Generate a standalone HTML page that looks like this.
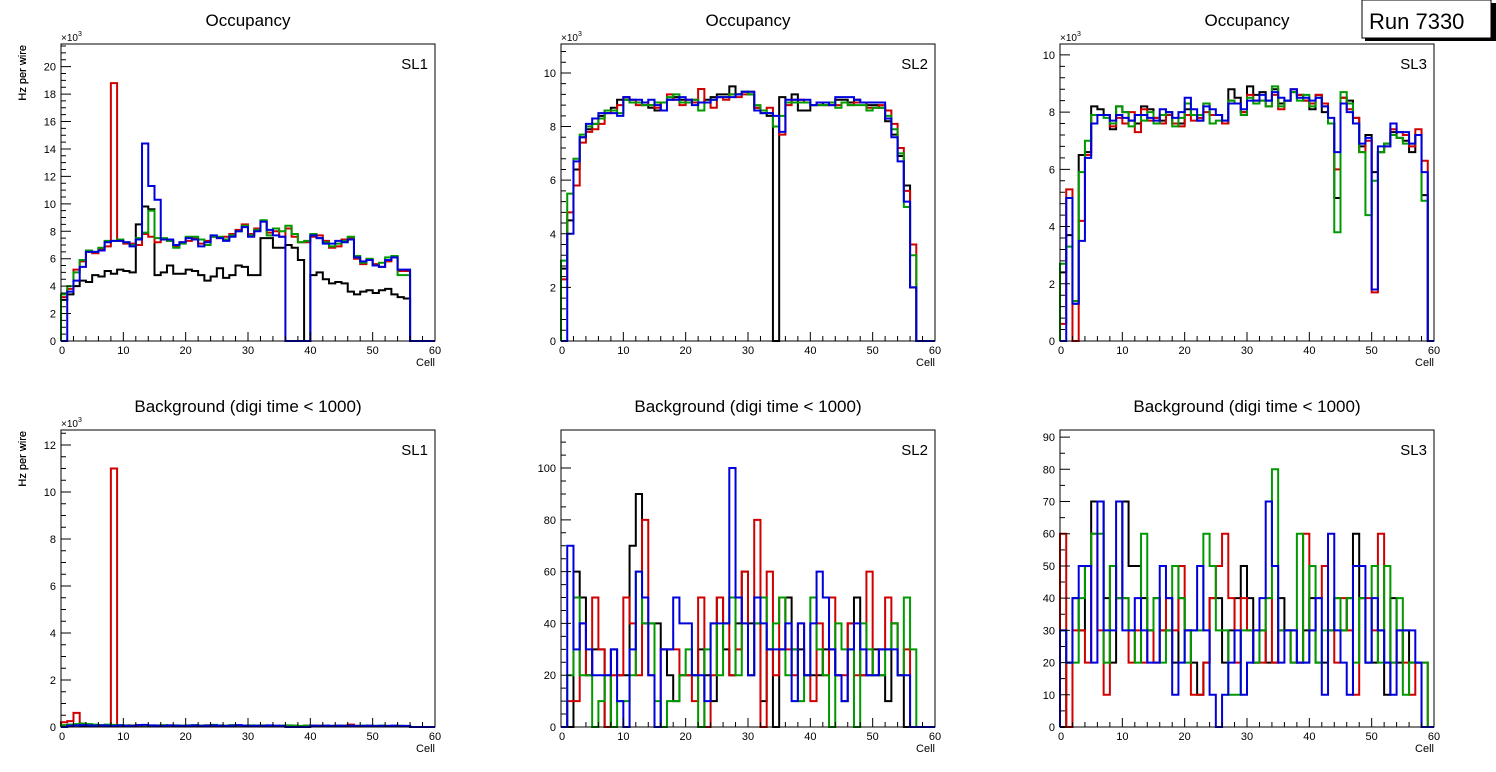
<!DOCTYPE html>
<html><head><meta charset="utf-8">
<style>
html,body{margin:0;padding:0;background:#fff;}
svg{display:block;font-family:"Liberation Sans",sans-serif;}
</style></head>
<body>
<svg id="root" width="1496" height="772" viewBox="0 0 1496 772" xmlns="http://www.w3.org/2000/svg">
<rect x="0" y="0" width="1496" height="772" fill="#fff"/>
<g>
<rect x="1365" y="3" width="131" height="38" fill="#000"/>
<rect x="1362" y="0" width="129" height="38" fill="#fff" stroke="#000" stroke-width="1"/>
<text x="1369" y="29" font-size="22" fill="#000">Run 7330</text>
</g>
</svg>
<script>
// ---- data (cells 0..59) ----
const cells = Array.from({length:60},(_,i)=>i);
const xTicks = [0,10,20,30,40,50,60];
// Panel 1: Occupancy SL1 (x10^3)
const occ1Black = [3.0,3.4,4.0,4.4,4.3,4.8,4.7,5.1,4.9,5.2,5.1,5.0,8.5,9.8,9.6,4.8,5.0,5.5,4.9,4.9,5.2,5.1,4.8,4.4,4.7,5.3,4.6,4.8,5.5,5.4,4.8,4.8,7.5,7.5,6.8,6.8,7.0,6.8,5.9,0,4.8,5.0,4.5,4.2,4.3,4.2,3.6,3.4,3.6,3.7,3.5,3.7,3.8,3.4,3.2,3.1,0,0,0,0];
const occ1Red   = [3.2,3.8,5.2,5.8,6.5,6.4,6.7,6.9,18.8,7.3,7.1,7.1,7.0,7.8,7.6,7.2,7.4,7.3,6.9,7.2,7.3,7.5,7.1,7.3,7.6,7.5,7.6,7.8,8.1,8.5,7.8,8.2,8.7,7.9,8.0,7.6,8.2,7.6,7.2,7.2,7.6,7.7,7.3,6.8,6.9,7.4,7.5,6.0,5.6,5.9,5.6,5.4,5.8,6.1,5.1,5.1,0,0,0,0];
const occ1Green = [3.4,4.0,5.0,5.9,6.6,6.5,6.8,7.3,7.3,7.4,7.2,7.0,7.5,7.9,9.5,7.5,7.5,7.3,6.8,7.1,7.6,7.6,7.4,7.0,7.6,7.6,7.4,7.7,8.0,8.4,7.7,8.1,8.8,7.7,8.2,8.0,8.4,7.8,7.2,7.3,7.8,7.5,7.2,6.9,7.1,7.3,7.6,6.2,5.7,6.0,5.5,5.7,6.1,6.2,4.8,4.8,0,0,0,0];
const occ1Blue  = [0,3.6,4.4,5.4,6.5,6.5,6.6,7.2,7.3,7.3,7.2,6.9,7.4,14.4,11.3,10.3,7.4,7.4,7.0,7.2,7.5,7.4,6.9,7.2,7.7,7.5,7.3,7.6,8.0,8.3,7.6,8.0,8.7,8.1,7.7,7.6,0,0,0,0,7.7,7.5,7.1,7.1,7.3,7.2,7.4,6.1,5.8,5.9,5.5,5.4,5.9,6.1,5.2,5.2,0,0,0,0];
// Panel 2: Occupancy SL2 (x10^3)
const occ2Black = [2.7,4.5,6.4,7.6,7.9,8.1,8.4,8.6,8.7,9.0,9.0,8.9,8.9,8.8,8.7,8.6,8.9,9.0,9.1,9.0,8.9,9.0,8.9,9.0,9.1,9.2,9.2,9.5,9.2,9.3,9.2,8.7,8.5,8.4,0,9.1,8.9,9.2,8.6,8.6,8.8,8.9,8.8,8.9,9.0,9.0,8.9,9.0,8.9,8.8,8.8,8.7,8.2,7.7,6.9,5.8,2.0,0,0,0];
const occ2Red   = [2.3,4.8,5.8,7.4,7.8,7.9,8.1,8.5,8.6,8.8,9.1,9.0,8.8,8.9,8.8,8.7,8.9,9.2,9.0,8.8,9.0,8.9,9.4,8.9,8.7,9.1,9.0,9.2,9.1,9.2,9.3,8.7,8.6,8.7,8.0,7.7,8.8,9.0,9.0,8.9,8.8,8.8,8.8,8.8,8.8,8.9,8.8,8.9,8.9,8.7,8.7,8.8,8.6,8.1,7.2,5.6,3.6,0,0,0];
const occ2Green = [3.0,5.5,6.8,7.7,8.0,8.1,8.3,8.6,8.6,8.5,9.0,8.9,8.9,8.8,8.8,8.9,8.9,9.1,9.2,8.9,8.9,9.0,8.6,8.9,9.0,9.1,9.1,9.2,9.2,9.3,9.2,8.8,8.6,8.5,8.0,8.4,8.9,8.9,8.9,8.9,8.8,8.8,8.8,8.9,8.7,8.9,8.8,8.8,8.8,8.6,8.7,8.7,8.4,7.9,7.0,5.0,3.2,0,0,0];
const occ2Blue  = [0,4.0,6.7,7.6,8.1,8.3,8.5,8.5,8.5,8.4,9.1,9.0,9.0,8.9,9.0,8.8,8.6,9.0,9.0,9.1,9.0,8.8,8.9,8.9,9.0,9.1,9.1,9.1,9.2,9.3,9.3,8.6,8.5,8.5,8.4,7.8,9.0,9.0,9.0,9.0,8.8,8.9,8.9,8.8,9.1,9.1,9.1,9.0,8.9,8.9,8.9,8.9,8.3,7.6,6.7,5.2,2.0,0,0,0];
// Panel 3: Occupancy SL3 (x10^3)
const occ3Black = [2.4,3.7,1.3,6.5,6.6,8.2,8.1,7.9,7.4,8.2,8.0,7.7,7.6,8.2,8.1,7.8,7.7,8.0,7.6,7.6,8.1,7.9,7.7,8.3,7.9,7.9,7.6,8.8,8.5,8.0,8.9,8.6,8.7,8.4,8.8,8.3,8.4,8.7,8.6,8.4,8.1,8.6,8.0,7.6,5.0,8.5,8.4,7.8,6.8,7.2,5.9,6.6,6.9,7.3,7.1,7.0,6.6,7.2,5.1,0];
const occ3Red   = [0.6,5.3,0,4.2,6.5,7.9,7.9,7.9,7.5,7.8,7.6,8.0,7.3,8.1,7.7,7.8,7.6,7.9,7.6,7.5,7.9,7.7,7.8,8.0,7.9,7.9,7.6,8.4,8.3,8.0,8.6,8.4,8.4,8.2,8.6,8.1,8.4,8.8,8.6,8.4,8.3,8.6,8.3,7.6,6.0,8.5,8.1,7.8,6.6,7.0,1.7,6.6,6.8,7.4,7.3,7.2,6.8,7.4,6.3,0];
const occ3Green = [2.7,3.3,1.4,5.9,7.0,7.9,7.9,7.8,7.6,8.2,8.0,7.5,7.9,7.7,8.0,7.6,7.9,8.0,7.5,7.8,8.3,7.9,7.9,8.3,7.6,7.7,7.7,8.4,8.3,7.9,8.5,8.3,8.4,8.2,8.9,8.2,8.4,8.7,8.4,8.6,8.2,8.5,8.2,7.6,3.8,8.7,8.3,7.6,6.6,4.4,5.6,6.6,6.9,7.2,7.1,6.9,6.9,7.2,4.9,0];
const occ3Blue  = [0,5.0,1.3,3.5,6.4,7.6,7.9,7.9,7.7,7.9,7.8,7.7,7.9,7.9,7.8,7.7,8.1,8.0,7.8,8.0,8.5,8.1,7.7,8.2,8.1,7.9,7.7,8.3,8.3,8.1,8.4,8.4,8.6,8.4,8.7,8.5,8.4,8.8,8.5,8.5,8.4,8.5,8.2,7.8,6.6,8.3,8.0,7.6,6.9,7.1,1.8,6.8,6.8,7.6,7.3,7.3,6.9,7.2,5.9,0];
// Panel 4: Background SL1 (x10^3)
const bkg1Black = [0.05,0.05,0.08,0.06,0.05,0.06,0.05,0.04,0.05,0.05,0.05,0.06,0.04,0.05,0.05,0.04,0.05,0.06,0.05,0.04,0.05,0.05,0.04,0.06,0.05,0.05,0.04,0.05,0.06,0.04,0.05,0.05,0.04,0.05,0.04,0.05,0.04,0.05,0.04,0.04,0.05,0.04,0.04,0.05,0.04,0.04,0.05,0.04,0.04,0.05,0.04,0.04,0.04,0.04,0.04,0.03,0,0,0,0];
const bkg1Red   = [0.2,0.25,0.6,0.1,0.08,0.06,0.07,0.05,11.0,0.06,0.05,0.07,0.05,0.06,0.05,0.06,0.05,0.07,0.05,0.06,0.04,0.05,0.06,0.07,0.05,0.06,0.05,0.06,0.05,0.06,0.05,0.04,0.06,0.05,0.04,0.05,0.06,0.05,0.04,0.06,0.05,0.06,0.05,0.04,0.05,0.06,0.1,0.05,0.04,0.05,0.04,0.05,0.04,0.04,0.05,0.04,0,0,0,0];
const bkg1Green = [0.08,0.1,0.12,0.15,0.12,0.1,0.08,0.1,0.09,0.08,0.07,0.06,0.08,0.07,0.06,0.07,0.08,0.06,0.07,0.06,0.07,0.08,0.06,0.07,0.09,0.07,0.06,0.08,0.07,0.06,0.07,0.06,0.07,0.06,0.05,0.06,0.07,0.06,0.05,0.06,0.06,0.05,0.06,0.05,0.06,0.05,0.06,0.05,0.06,0.05,0.05,0.06,0.05,0.05,0.05,0.04,0,0,0,0];
const bkg1Blue  = [0,0.06,0.07,0.08,0.07,0.06,0.07,0.06,0.05,0.07,0.06,0.05,0.08,0.09,0.07,0.06,0.05,0.07,0.06,0.05,0.06,0.07,0.05,0.06,0.07,0.06,0.05,0.06,0.08,0.06,0.05,0.06,0.05,0.07,0.06,0.05,0,0,0,0,0.06,0.05,0.06,0.05,0.06,0.05,0.06,0.05,0.05,0.06,0.05,0.05,0.05,0.06,0.05,0.05,0,0,0,0];
// Panel 5: Background SL2
const bkg2Black = [0,0,60,50,20,30,30,0,30,20,20,70,90,40,40,40,30,20,10,20,20,20,30,20,10,50,30,20,40,60,40,40,10,30,0,30,50,30,30,20,20,20,30,30,20,10,40,50,20,20,30,20,10,40,20,0,0,0,0,0];
const bkg2Red   = [0,10,10,40,20,50,30,0,20,20,50,40,20,80,20,0,30,30,30,20,20,10,50,0,20,50,40,20,30,60,20,80,0,60,20,50,30,20,40,20,10,40,20,50,20,20,40,20,20,60,20,30,50,40,20,30,0,0,0,0];
const bkg2Green = [0,20,50,20,20,0,10,20,0,10,10,20,60,40,40,10,0,10,10,20,30,20,0,30,40,20,40,50,20,40,20,40,50,30,40,50,20,30,10,20,50,30,20,0,40,30,30,0,40,30,20,20,30,40,20,50,30,0,0,0];
const bkg2Blue  = [0,70,30,40,30,20,20,20,30,10,0,30,60,50,20,0,30,30,50,40,40,20,20,10,40,40,40,100,50,40,20,50,40,30,30,30,40,10,40,20,40,60,50,30,20,10,30,40,30,20,20,30,30,30,20,20,0,0,0,0];
// Panel 6: Background SL3
const bkg3Black = [0,20,40,30,50,70,70,40,20,40,70,50,50,40,30,40,30,30,20,40,30,20,10,20,40,40,20,30,40,50,40,20,30,20,20,40,30,30,20,30,40,20,20,30,40,30,40,60,40,20,20,30,10,40,20,30,20,20,0,0];
const bkg3Red   = [60,0,30,30,20,60,30,10,50,40,40,20,30,20,30,20,30,40,30,50,30,10,10,20,40,50,60,40,20,40,30,20,20,40,20,30,30,20,20,60,30,40,50,30,20,40,30,10,40,40,30,60,20,20,30,20,10,20,20,0];
const bkg3Green = [30,20,20,40,50,60,60,20,50,40,40,30,20,60,30,40,20,30,50,40,20,30,30,60,50,30,30,10,10,30,30,20,30,40,80,30,30,20,60,20,50,20,30,30,40,30,40,20,40,20,50,20,50,20,40,10,20,20,20,0];
const bkg3Blue  = [30,20,40,50,50,20,70,30,30,70,30,30,40,30,20,20,50,40,10,20,30,30,50,30,10,0,10,20,30,10,20,30,40,70,50,20,30,30,20,20,30,40,10,60,30,20,10,50,50,20,40,30,20,10,30,30,30,20,0,0];
const ticks1 = [0,2,4,6,8,10,12,14,16,18,20];
const ticks2 = [0,2,4,6,8,10];
const ticks4 = [0,2,4,6,8,10,12];
const ticks5 = [0,20,40,60,80,100];
const ticks6 = [0,10,20,30,40,50,60,70,80,90];

const NS="http://www.w3.org/2000/svg";
const root=document.getElementById('root');
const colors=['#000000','#d00000','#009900','#0000dd'];
const seriesNames=['black','red','green','blue'];
function mk(tag,attrs,parent){const e=document.createElementNS(NS,tag);for(const k in attrs)e.setAttribute(k,attrs[k]);parent.appendChild(e);return e;}

const panels=[
 {id:'occupancy-sl1',title:'Occupancy',sl:'SL1',x0:61,y0:44,y1:341,ymax:21.65,ticks:ticks1,minor:4,exp:true,data:[occ1Black,occ1Red,occ1Green,occ1Blue]},
 {id:'occupancy-sl2',title:'Occupancy',sl:'SL2',x0:561,y0:44,y1:341,ymax:11.08,ticks:ticks2,minor:5,exp:true,data:[occ2Black,occ2Red,occ2Green,occ2Blue]},
 {id:'occupancy-sl3',title:'Occupancy',sl:'SL3',x0:1060,y0:44,y1:341,ymax:10.38,ticks:ticks2,minor:5,exp:true,data:[occ3Black,occ3Red,occ3Green,occ3Blue]},
 {id:'background-sl1',title:'Background (digi time < 1000)',sl:'SL1',x0:61,y0:430,y1:727,ymax:12.64,ticks:ticks4,minor:4,exp:true,data:[bkg1Black,bkg1Red,bkg1Green,bkg1Blue]},
 {id:'background-sl2',title:'Background (digi time < 1000)',sl:'SL2',x0:561,y0:430,y1:727,ymax:114.7,ticks:ticks5,minor:4,exp:false,data:[bkg2Black,bkg2Red,bkg2Green,bkg2Blue]},
 {id:'background-sl3',title:'Background (digi time < 1000)',sl:'SL3',x0:1060,y0:430,y1:727,ymax:92.2,ticks:ticks6,minor:2,exp:false,data:[bkg3Black,bkg3Red,bkg3Green,bkg3Blue]}
];
const W=374;

panels.forEach(p=>{
 const g=mk('g',{},root);
 
 
 const xS=v=>p.x0+v/60*W;
 const yS=v=>p.y1-Math.min(v,p.ymax)/p.ymax*(p.y1-p.y0);
 const t=mk('text',{x:p.x0+W/2,y:p.y0-18,'font-size':17,'text-anchor':'middle'},g);
 t.textContent=p.title;
 
 
 // series
 p.data.forEach((arr,si)=>{
  let d='M'+xS(0)+','+yS(0);
  cells.forEach(i=>{d+=' V'+yS(arr[i]).toFixed(2)+' H'+xS(i+1).toFixed(2);});
  d+=' V'+yS(0);
  const path=mk('path',{d:d,fill:'none',stroke:colors[si],'stroke-width':2},g);
  
  
 });
 // frame
 const fr=mk('rect',{x:p.x0,y:p.y0,width:W,height:p.y1-p.y0,fill:'none',stroke:'#000','stroke-width':1},g);
 
 
 // y ticks
 const step=p.ticks[1]-p.ticks[0];
 let yt='';
 for(let v=0;v<=p.ymax+1e-9;v+=step/p.minor){
  const major=Math.abs(v/step-Math.round(v/step))<1e-6;
  const y=yS(v);
  yt+='M'+p.x0+','+y.toFixed(2)+' h'+(major?10:5)+' ';
 }
 const ya=mk('path',{d:yt,stroke:'#000','stroke-width':1,fill:'none'},g);
 
 
 p.ticks.forEach(v=>{
  const tl=mk('text',{x:p.x0-5,y:yS(v)+4,'font-size':11,'text-anchor':'end'},g);
  tl.textContent=String(v);
  
  
 });
 // x ticks
 let xt='';
 for(let v=0;v<=60;v+=2){const major=v%10===0;xt+='M'+xS(v).toFixed(2)+','+p.y1+' v-'+(major?9:5)+' ';}
 const xa=mk('path',{d:xt,stroke:'#000','stroke-width':1,fill:'none'},g);
 
 
 xTicks.forEach(v=>{
  const tl=mk('text',{x:xS(v)+(v===0?1:0),y:p.y1+13,'font-size':11,'text-anchor':'middle'},g);
  tl.textContent=String(v);
  
  
 });
 const xl=mk('text',{x:p.x0+W,y:p.y1+25,'font-size':11,'text-anchor':'end'},g);
 xl.textContent='Cell';
 
 
 const yl=mk('text',{x:0,y:0,'font-size':11,'text-anchor':'end',transform:'translate(26,'+(p.y0+1)+') rotate(-90)'},g);
 yl.textContent='Hz per wire';
 
 
 if(p.exp){
  const ex=mk('text',{x:p.x0,y:p.y0-3,'font-size':10},g);
  ex.textContent='\u00d710';
  
  
  const sup=mk('tspan',{dy:-5,'font-size':7},ex);
  sup.textContent='3';
 }
 const sl=mk('text',{x:p.x0+W-7,y:p.y0+25,'font-size':15,'text-anchor':'end'},g);
 sl.textContent=p.sl;
 
 
});
</script>
</body></html>
